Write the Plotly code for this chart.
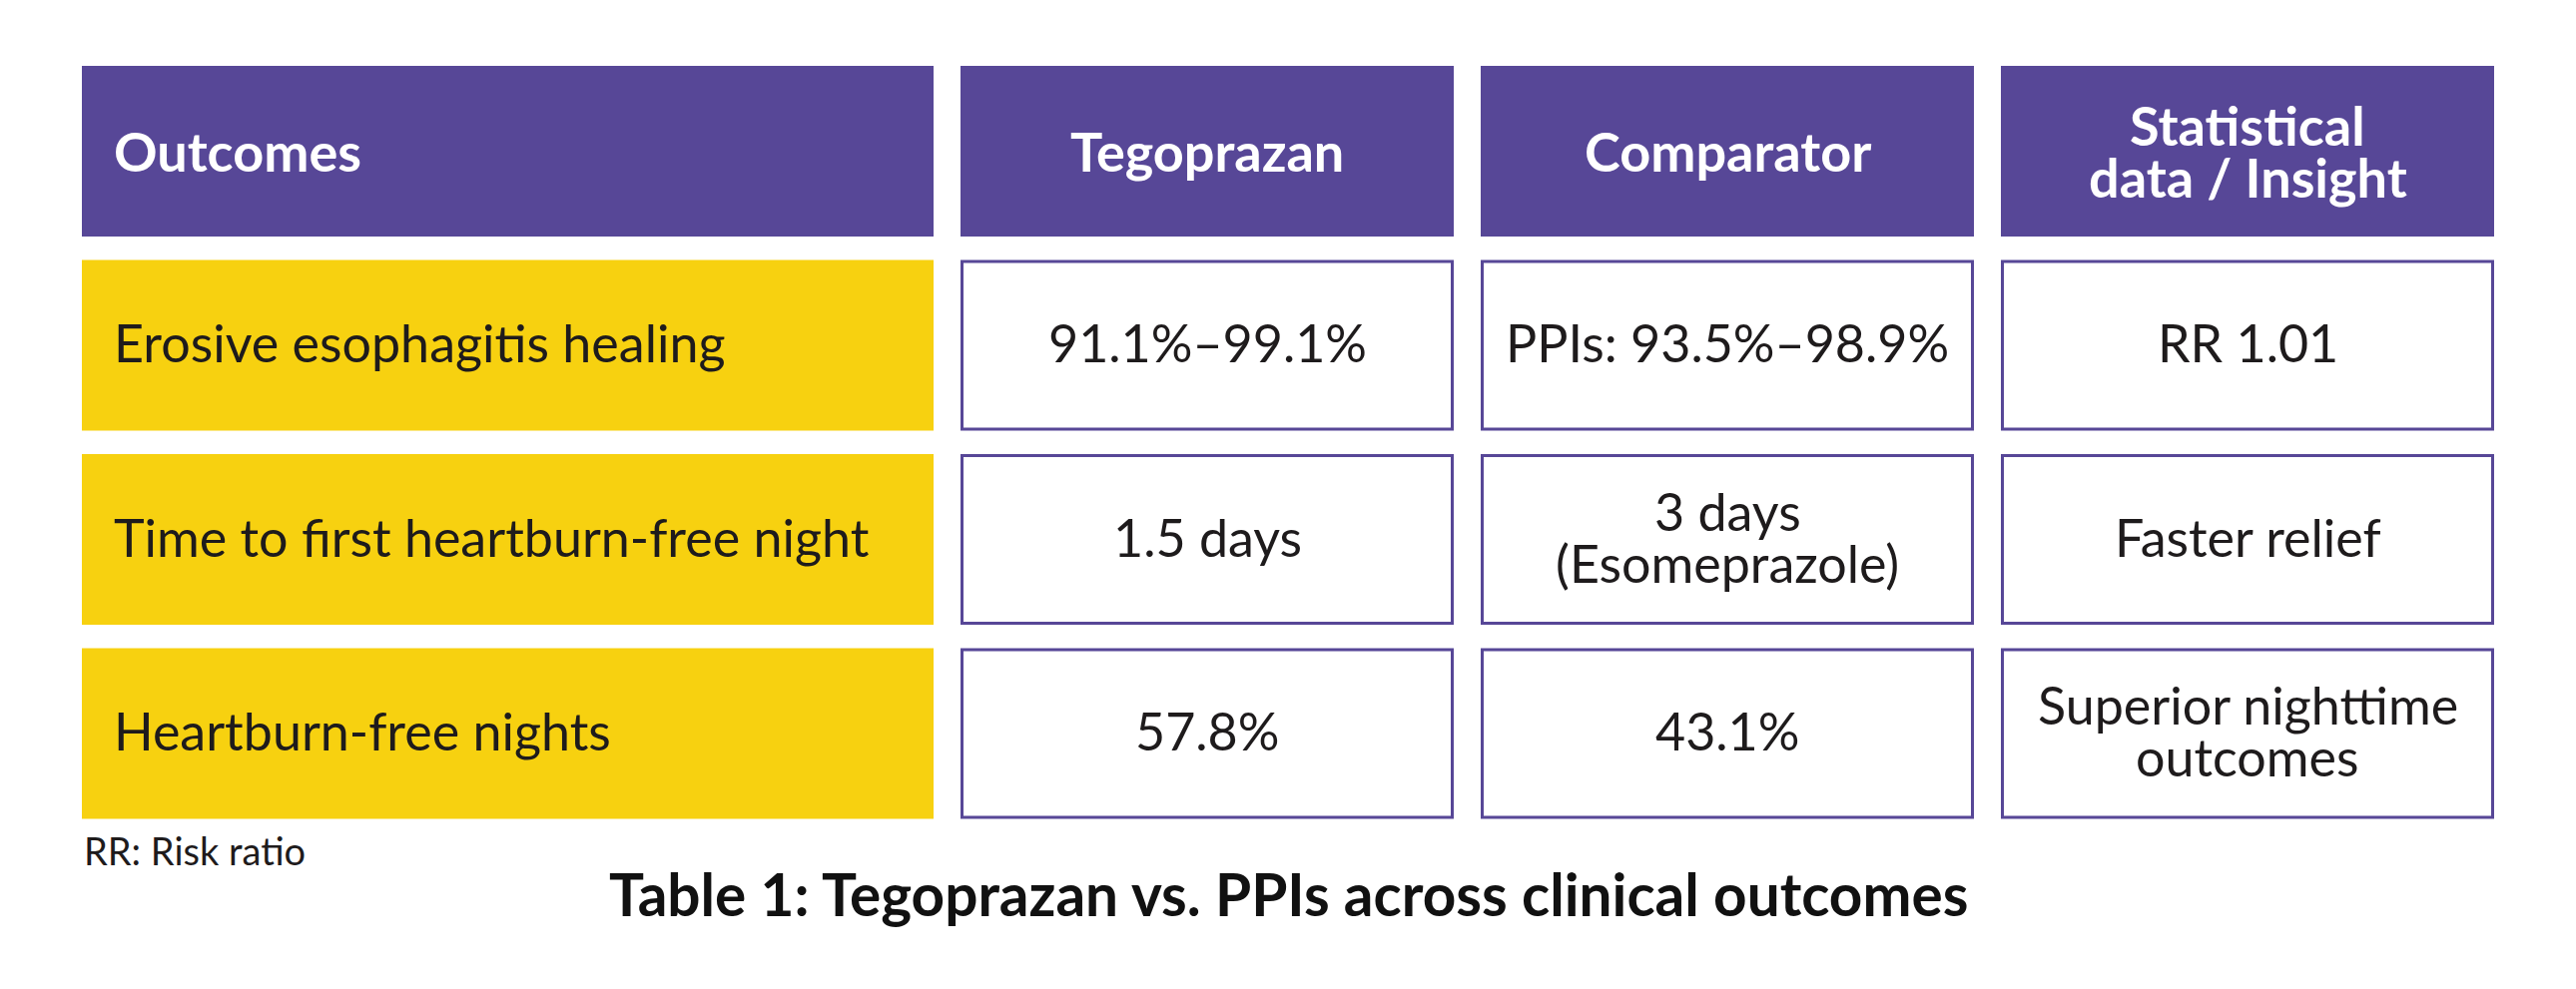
import plotly.graph_objects as go

# table content
headers = ["Outcomes", "Tegoprazan", "Comparator", "Statistical\ndata / Insight"]
outcomes = ["Erosive esophagitis healing",
            "Time to first heartburn-free night",
            "Heartburn-free nights"]
tegoprazan = ["91.1%\u201399.1%", "1.5 days", "57.8%"]
comparator = ["PPIs: 93.5%\u201398.9%", "3 days\n(Esomeprazole)", "43.1%"]
insight = ["RR 1.01", "Faster relief", "Superior nighttime\noutcomes"]
footnote = "RR: Risk ratio"
caption = "Table 1: Tegoprazan vs. PPIs across clinical outcomes"

# layout (pixels, page coordinates)
W, H = 2580, 991
body_margin = 8   # default page margin around the plot div
left, col_gap = 82, 27
col_w = [853, 494, 494, 494]
top, row_gap, row_h = 66, 23.5, 171
line_h = 52
pad = 30

PURPLE = "#574797"
YELLOW = "#F7D110"
TEXT = "#1e1b1c"
FONT = "Lato"

col_x = []
x = left
for w in col_w:
    col_x.append((x, x + w))
    x += w + col_gap

n_rows = 1 + len(outcomes)
row_y = [(top + i * (row_h + row_gap), top + i * (row_h + row_gap) + row_h) for i in range(n_rows)]

columns = [outcomes, tegoprazan, comparator, insight]

shapes = []
annotations = []


def add_text(txt, cx, cy, align, color, bold=False, size=52):
    lines = txt.split("\n")
    n = len(lines)
    for i, ln in enumerate(lines):
        annotations.append(dict(
            x=cx, y=cy + (i - (n - 1) / 2) * line_h, xref="x", yref="y",
            text="<b>%s</b>" % ln if bold else ln, showarrow=False,
            xanchor=align, yanchor="middle",
            font=dict(family=FONT, size=size, color=color)))


# header row
for c, h in enumerate(headers):
    x0, x1 = col_x[c]
    y0, y1 = row_y[0]
    shapes.append(dict(type="rect", xref="x", yref="y", x0=x0, x1=x1, y0=y0, y1=y1,
                       fillcolor=PURPLE, line=dict(width=0), layer="below"))
    if c == 0:
        add_text(h, x0 + pad, (y0 + y1) / 2, "left", "white", bold=True, size=54)
    else:
        add_text(h, (x0 + x1) / 2, (y0 + y1) / 2, "center", "white", bold=True, size=54)

# body rows
for r in range(len(outcomes)):
    y0, y1 = row_y[r + 1]
    for c, col in enumerate(columns):
        x0, x1 = col_x[c]
        if c == 0:
            shapes.append(dict(type="rect", xref="x", yref="y", x0=x0, x1=x1, y0=y0, y1=y1,
                               fillcolor=YELLOW, line=dict(width=0), layer="below"))
            add_text(col[r], x0 + pad, (y0 + y1) / 2 - 3, "left", TEXT)
        else:
            shapes.append(dict(type="rect", xref="x", yref="y", x0=x0 + 1.5, x1=x1 - 1.5,
                               y0=y0 + 1.5, y1=y1 - 1.5, fillcolor="white",
                               line=dict(width=3, color=PURPLE), layer="below"))
            add_text(col[r], (x0 + x1) / 2, (y0 + y1) / 2 - 3, "center", TEXT)

# footnote and caption
add_text(footnote, left, 852, "left", TEXT, size=38)
add_text(caption, W / 2, 895, "center", "#111111", bold=True, size=58.5)

fig = go.Figure()
fig.update_layout(
    width=W, height=H,
    margin=dict(l=0, r=0, t=0, b=0),
    paper_bgcolor="white", plot_bgcolor="white",
    xaxis=dict(range=[body_margin, W + body_margin], visible=False, fixedrange=True),
    yaxis=dict(range=[H + body_margin, body_margin], visible=False, fixedrange=True),
    shapes=shapes, annotations=annotations,
    showlegend=False,
)
fig.write_html("out.html")
